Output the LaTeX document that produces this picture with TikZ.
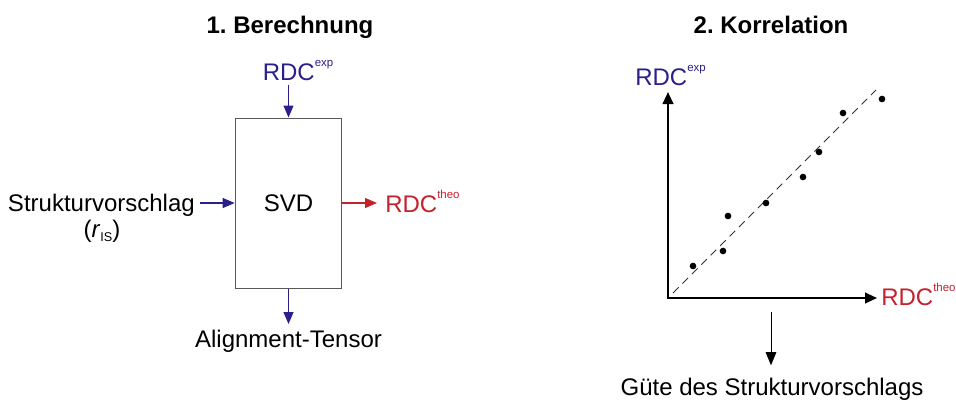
\documentclass[tikz,border=0pt]{standalone}
\usepackage{fontspec}
\setmainfont{Liberation Sans}
\usetikzlibrary{arrows.meta,calc,positioning}
\definecolor{dunkelblau}{RGB}{43,32,138}
\definecolor{dunkelrot}{RGB}{196,34,44}
\def\hoch#1{\raisebox{10pt}{\fontsize{8.6}{10}\selectfont #1}}
\def\tief#1{\raisebox{-3pt}{\fontsize{9.5}{10}\selectfont #1}}
\frenchspacing

\begin{document}
\begin{tikzpicture}[x=0.75pt,y=-0.75pt,
  txt/.style={inner sep=0pt,font=\fontsize{18}{21}\selectfont},
  titel/.style={txt,font=\fontsize{18}{21}\selectfont\bfseries},
  kasten/.style={txt,draw=black!65,line width=0.75pt,minimum width=80pt,minimum height=127.5pt},
  pfeil/.style={line width=0.8pt,-{Triangle[length=9pt,width=7.5pt]}},
  achse/.style={line width=1.5pt,line join=miter,{Triangle[length=9pt,width=8pt]}-{Triangle[length=9pt,width=8pt]}},
  duenn/.style={line width=0.75pt,-{Triangle[length=10pt,width=8pt]}},
  gestrichelt/.style={black!80,line width=0.6pt,dash pattern=on 6pt off 4pt},
  punkt/.style={fill=black}]
\useasboundingbox (0,0) rectangle (956,401);
    \node[titel,anchor=base] (titelA) at (290,33) {1. Berechnung};
    \node[kasten] (svd) at (288.5,203) {SVD};
    \node[txt,anchor=base,text=dunkelblau] (rdcA) at (298,80) {RDC\hoch{exp}};
    \draw[pfeil,dunkelblau,shorten <=3pt] (rdcA.south -| svd.north) -- (svd.north);
    \node[txt,anchor=base east] (vorschlag) at (195,211) {Strukturvorschlag};
    \node[txt,anchor=base] (ris) at (102,237.5) {(\textit{r}\tief{IS})};
    \draw[pfeil,dunkelblau,shorten <=4pt] (vorschlag.east |- svd.west) -- (svd.west);
    \node[txt,anchor=base west,text=dunkelrot] (rdcB) at (385,212) {RDC\hoch{theo}};
    \draw[pfeil,dunkelrot,shorten >=6pt] (svd.east) -- (svd.east -| rdcB.west);
    \node[txt,anchor=base] (tensor) at (288.5,347) {Alignment-Tensor};
    \draw[pfeil,dunkelblau,shorten >=4pt] (svd.south) -- (tensor.north);
    % Korrelation
    \node[titel,anchor=base] (titelB) at (771,33) {2. Korrelation};
    \coordinate (ursprung) at (668,298);
    \coordinate (yende) at (668,92);
    \coordinate (xende) at (877,298);
    \draw[achse] (yende) -- (ursprung) -- (xende);
    \node[txt,anchor=base west,text=dunkelblau] (rdcC) at (635,85) {RDC\hoch{exp}};
    \node[txt,anchor=base west,text=dunkelrot] (rdcD) at (881,305) {RDC\hoch{theo}};
    \draw[gestrichelt] (673,293) -- (876,90);
    \foreach \px/\py in {693/266,723/251,728/216,766/203,803/177,819/152,843/113,882/99}
      \fill[punkt] (\px,\py) circle (2.5pt);
    \coordinate (pfeilstart) at (771,312);
    \node[txt,anchor=base] (guete) at (772,395) {Güte des Strukturvorschlags};
    \draw[duenn,shorten >=9pt] (pfeilstart) -- (pfeilstart |- guete.north);
\end{tikzpicture}
\end{document}
